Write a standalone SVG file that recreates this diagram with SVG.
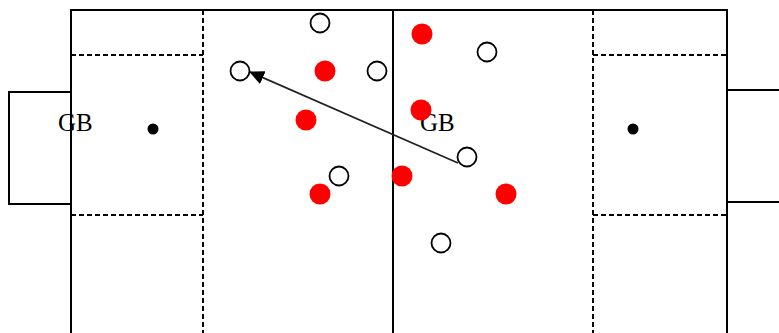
<svg xmlns="http://www.w3.org/2000/svg" width="779" height="333" viewBox="0 0 779 333">
  <style>
    .line { fill: none; stroke: #000; stroke-width: 2; }
    .dash { fill: none; stroke: #000; stroke-width: 2; stroke-dasharray: 5 3; }
    .white { fill: #fff; stroke: #000; stroke-width: 1.8; }
    .red { fill: #ff0000; stroke: none; }
    .lbl { font-family: "Liberation Serif", "Times New Roman", serif; font-size: 25px; fill: #000; }
  </style>
  <defs>
    <marker id="arrow" markerWidth="15" markerHeight="14" refX="14" refY="7" orient="auto" markerUnits="userSpaceOnUse" viewBox="0 0 15 14">
      <path d="M0,0 L15,7 L0,14 z" fill="#000"/>
    </marker>
  </defs>
  <rect width="779" height="333" fill="#fff"/>
  <g id="labels">
    <text class="lbl" x="58" y="131">GB</text>
    <text class="lbl" x="420" y="131">GB</text>
  </g>
  <g id="field">
    <path class="line" d="M71,333 V10 H727 V333"/>
    <path class="line" d="M393,10 V333"/>
    <path class="line" d="M71,92 H9 V204 H71"/>
    <path class="line" d="M779,90 H727 V202 H779"/>
    <path class="dash" d="M203,10 V333"/>
    <path class="dash" d="M71,55 H203 M71,215 H203"/>
    <path class="dash" d="M593,10 V333"/>
    <path class="dash" d="M593,55 H727 M593,215 H727"/>
    <circle cx="153" cy="129" r="5.5" fill="#000"/>
    <circle cx="633" cy="129" r="5.5" fill="#000"/>
  </g>
  <g id="connectors">
    <line x1="458" y1="163" x2="250" y2="72" stroke="#222" stroke-width="1.8" marker-end="url(#arrow)"/>
  </g>
  <g id="white-players">
    <circle class="white" cx="320" cy="23" r="9.5"/>
    <circle class="white" cx="240" cy="71" r="9.5"/>
    <circle class="white" cx="377" cy="71" r="9.5"/>
    <circle class="white" cx="487" cy="52" r="9.5"/>
    <circle class="white" cx="467" cy="157" r="9.5"/>
    <circle class="white" cx="339" cy="176" r="9.5"/>
    <circle class="white" cx="441" cy="243" r="9.5"/>
  </g>
  <g id="red-players">
    <circle class="red" cx="422" cy="34" r="10.5"/>
    <circle class="red" cx="325" cy="71" r="10.5"/>
    <circle class="red" cx="421" cy="110" r="10.5"/>
    <circle class="red" cx="306" cy="120" r="10.5"/>
    <circle class="red" cx="402" cy="176" r="10.5"/>
    <circle class="red" cx="320" cy="194" r="10.5"/>
    <circle class="red" cx="506" cy="194" r="10.5"/>
  </g>
</svg>
